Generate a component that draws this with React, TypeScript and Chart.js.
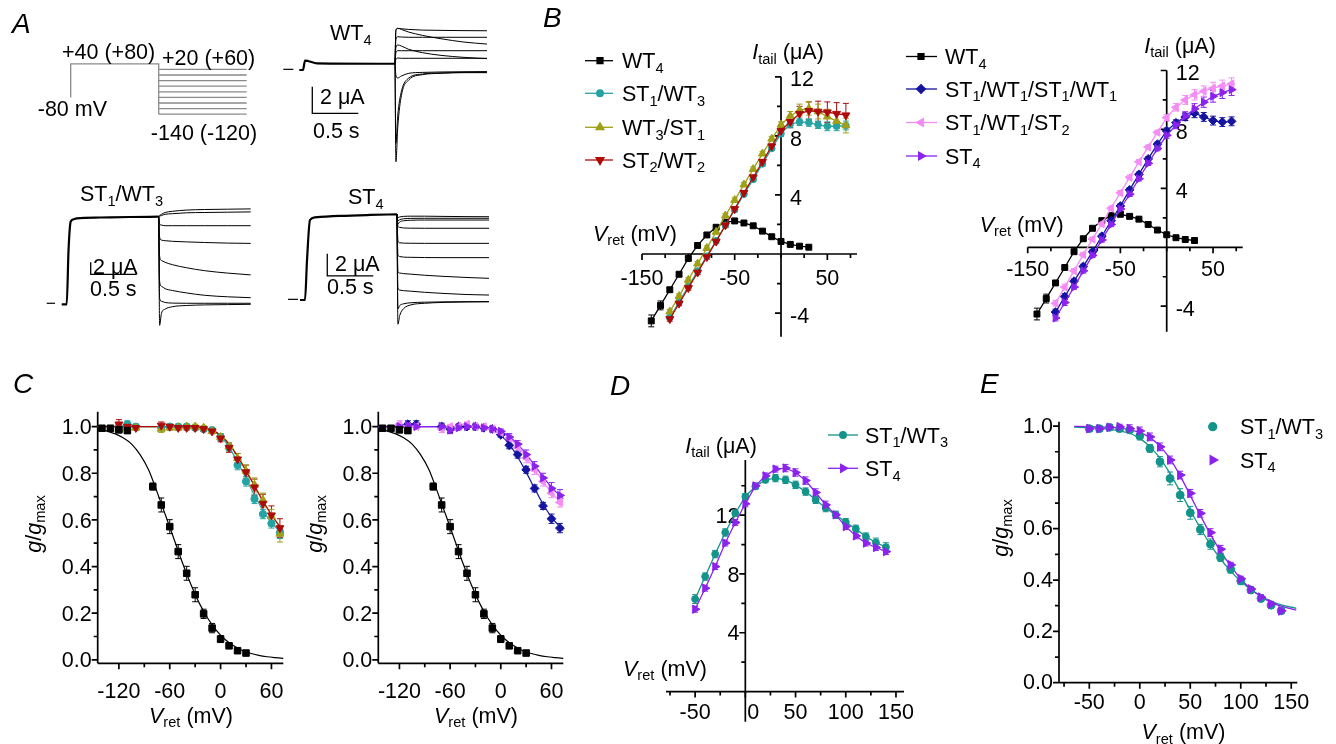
import React, { useEffect, useRef } from 'react';
import { Chart, registerables } from 'chart.js';
import { drawPoint } from 'chart.js/helpers';

Chart.register(...registerables);

const FONT = '"Liberation Sans", Arial, Helvetica, sans-serif';
const FS = 21.5;

/* ================= Panel A : protocol and current traces ================= */
const protoPulseT = [0, 0, 1, 1];
const protoPulseV = [-80, 40, 40, -140];
const protoTailT = [1, 2];
const protoTailV = [20, 0, -20, -40, -60, -80, -100, -120, -140];

const tailT = [1.0, 1.01, 1.03, 1.07, 1.15, 1.3, 1.5, 1.75, 2.0];

const wt4DashT = [-0.214, -0.105];
const wt4DashI = [0.05, 0.05];
const wt4PulseT = [-0.04, 0, 0.022, 0.054, 0.152, 1.0];
const wt4PulseI = [0, 0, 0.71, 0.68, 0.5, 0.47];
const wt4Tails = [
  [0.47, 3.0, 3.13, 3.1, 3.05, 3.0, 2.98, 2.96, 2.95],
  [0.47, 3.0, 3.13, 3.05, 2.85, 2.6, 2.35, 2.1, 1.95],
  [0.47, 2.3, 2.5, 2.48, 2.46, 2.46, 2.46, 2.46, 2.46],
  [0.47, 1.7, 1.88, 1.8, 1.55, 1.3, 1.1, 0.95, 0.85],
  [0.47, 1.3, 1.45, 1.45, 1.45, 1.45, 1.45, 1.45, 1.45],
  [0.47, 0.8, 0.9, 0.88, 0.88, 0.88, 0.88, 0.88, 0.88],
  [0.47, -0.4, -0.6, -0.45, -0.25, -0.18, -0.15, -0.13, -0.12],
  [0.47, -5.5, -3.4, -1.6, -0.6, -0.3, -0.22, -0.18, -0.17],
  [0.47, -6.9, -4.3, -1.9, -0.75, -0.35, -0.25, -0.2, -0.2],
];
const wt4BarT = [0.101, 0.101, 0.601];
const wt4BarI = [-1.26, -3.26, -3.26];

const st1DashT = [-0.217, -0.127];
const st1DashI = [0.17, 0.17];
const st1PulseT = [-0.054, 0, 0.02, 0.043, 0.068, 0.109, 0.362, 0.688, 1.0];
const st1PulseI = [0, 0, 9.05, 13.77, 14.13, 14.33, 14.47, 14.55, 14.6];
const st1Tails = [
  [14.6, 14.8, 15.0, 15.3, 15.5, 15.7, 15.8, 15.85, 15.9],
  [14.6, 14.7, 14.8, 15.0, 15.1, 15.25, 15.3, 15.35, 15.4],
  [14.6, 13.4, 13.2, 13.1, 13.1, 13.1, 13.1, 13.1, 13.1],
  [14.6, 11.2, 10.7, 10.6, 10.5, 10.4, 10.3, 10.2, 10.15],
  [14.6, 8.0, 7.3, 7.0, 6.6, 6.1, 5.6, 5.2, 4.9],
  [14.6, 3.8, 3.0, 2.6, 2.3, 1.9, 1.5, 1.25, 1.1],
  [14.6, 1.0, 0.5, 0.3, 0.2, 0.17, 0.17, 0.17, 0.17],
  [14.6, -3.5, -1.5, -0.8, -0.4, -0.2, -0.1, -0.05, 0.0],
];
const st1BarT = [0.261, 0.261, 0.761];
const st1BarI = [7, 5, 5];

const st4DashT = [-0.185, -0.076];
const st4DashI = [0.06, 0.06];
const st4PulseT = [-0.054, 0, 0.022, 0.054, 0.109, 0.38, 0.707, 1.0];
const st4PulseI = [0, 0, 3.64, 7.27, 7.52, 7.64, 7.73, 7.79];
const st4Tails = [
  [7.79, 7.5, 7.55, 7.6, 7.62, 7.62, 7.6, 7.58, 7.57],
  [7.79, 7.2, 7.3, 7.38, 7.42, 7.43, 7.43, 7.43, 7.43],
  [7.79, 6.9, 7.1, 7.2, 7.25, 7.27, 7.27, 7.27, 7.27],
  [7.79, 6.7, 6.6, 6.55, 6.53, 6.52, 6.52, 6.52, 6.52],
  [7.79, 5.4, 5.2, 5.17, 5.16, 5.15, 5.15, 5.15, 5.15],
  [7.79, 4.1, 3.95, 3.9, 3.88, 3.86, 3.85, 3.85, 3.85],
  [7.79, 2.6, 2.45, 2.4, 2.35, 2.25, 2.15, 2.05, 1.97],
  [7.79, 1.1, 0.9, 0.85, 0.8, 0.7, 0.6, 0.5, 0.45],
  [7.79, -0.8, -0.5, -0.35, -0.25, -0.2, -0.17, -0.15, -0.15],
  [7.79, -2.2, -1.4, -0.8, -0.45, -0.3, -0.22, -0.18, -0.16],
];
const st4BarT = [0.242, 0.242, 0.742];
const st4BarI = [4.2, 2.2, 2.2];

/* ================= Panel B : tail current vs Vret ================= */
const vWT4 = [-140, -130, -120, -110, -100, -90, -80, -70, -60, -50, -40, -30, -20, -10, 0, 10, 20, 30];
const iWT4 = [-4.53, -3.48, -2.42, -1.37, -0.3, 0.58, 1.29, 1.81, 2.15, 2.24, 2.1, 1.91, 1.55, 1.17, 0.85, 0.65, 0.53, 0.46];
const eWT4 = [0.4, 0.3, 0.15, 0.12, 0.1, 0.1, 0.1, 0.1, 0.12, 0.15, 0.12, 0.1, 0.1, 0.08, 0.08, 0.06, 0.06, 0.06];

const vMut = [-120, -110, -100, -90, -80, -70, -60, -50, -40, -30, -20, -10, 0, 10, 20, 30, 40, 50, 60, 70];
const iST1WT3 = [-4.3, -3.25, -2.2, -1.15, -0.15, 0.9, 1.95, 3.0, 4.05, 5.05, 6.1, 7.15, 8.15, 8.8, 8.95, 8.9, 8.75, 8.65, 8.65, 8.7];
const eST1WT3 = [0.15, 0.15, 0.15, 0.15, 0.15, 0.15, 0.15, 0.15, 0.15, 0.15, 0.15, 0.15, 0.2, 0.25, 0.25, 0.25, 0.25, 0.3, 0.3, 0.3];
const iWT3ST1 = [-3.9, -2.85, -1.75, -0.65, 0.4, 1.5, 2.6, 3.65, 4.7, 5.75, 6.8, 7.8, 8.75, 9.35, 9.75, 9.85, 9.65, 9.3, 9.0, 8.7];
const eWT3ST1 = [0.15, 0.15, 0.15, 0.15, 0.15, 0.15, 0.15, 0.15, 0.15, 0.15, 0.15, 0.15, 0.2, 0.3, 0.4, 0.45, 0.5, 0.5, 0.5, 0.5];
const iST2WT2 = [-4.4, -3.35, -2.3, -1.25, -0.2, 0.85, 1.95, 3.05, 4.15, 5.2, 6.25, 7.3, 8.35, 8.95, 9.5, 9.7, 9.65, 9.6, 9.5, 9.4];
const eST2WT2 = [0.15, 0.15, 0.15, 0.15, 0.15, 0.15, 0.15, 0.15, 0.15, 0.15, 0.15, 0.15, 0.2, 0.4, 0.5, 0.6, 0.7, 0.7, 0.75, 0.8];

const iS1W1S1W1 = [-4.4, -3.35, -2.3, -1.3, -0.3, 0.75, 1.8, 2.8, 3.9, 4.95, 6.0, 7.0, 7.9, 8.45, 8.85, 9.1, 8.85, 8.6, 8.5, 8.55];
const eS1W1S1W1 = [0.2, 0.2, 0.15, 0.15, 0.15, 0.15, 0.15, 0.15, 0.15, 0.15, 0.15, 0.15, 0.2, 0.2, 0.25, 0.3, 0.3, 0.3, 0.3, 0.3];
const iS1W1S2 = [-3.8, -2.7, -1.6, -0.5, 0.55, 1.6, 2.65, 3.7, 4.75, 5.8, 6.8, 7.8, 8.8, 9.5, 10.0, 10.35, 10.6, 10.8, 10.95, 11.1];
const eS1W1S2 = [0.2, 0.2, 0.15, 0.15, 0.15, 0.15, 0.15, 0.15, 0.15, 0.15, 0.15, 0.15, 0.2, 0.25, 0.3, 0.35, 0.35, 0.4, 0.4, 0.4];
const iST4 = [-4.8, -3.75, -2.7, -1.6, -0.55, 0.5, 1.55, 2.6, 3.6, 4.65, 5.7, 6.7, 7.6, 8.3, 8.9, 9.4, 9.85, 10.25, 10.5, 10.7];
const eST4 = [0.2, 0.2, 0.15, 0.15, 0.15, 0.15, 0.15, 0.15, 0.15, 0.15, 0.15, 0.15, 0.2, 0.25, 0.3, 0.35, 0.35, 0.4, 0.4, 0.4];

/* ================= Panel C : g/gmax ================= */
const vGWT4 = [-140, -130, -120, -110, -80, -70, -60, -50, -40, -30, -20, -10, 0, 10, 20, 30];
const gWT4 = [0.993, 0.993, 0.986, 0.983, 0.743, 0.664, 0.571, 0.464, 0.371, 0.279, 0.197, 0.136, 0.089, 0.06, 0.039, 0.029];
const egWT4 = [0.01, 0.01, 0.01, 0.012, 0.015, 0.03, 0.03, 0.03, 0.03, 0.03, 0.02, 0.02, 0.015, 0.01, 0.01, 0.01];
const vGMut = [-120, -110, -100, -70, -60, -50, -40, -30, -20, -10, 0, 10, 20, 30, 40, 50, 60, 70];
const gST1WT3 = [1.0, 1.01, 1.0, 0.995, 1.0, 1.0, 1.0, 0.995, 0.99, 0.985, 0.955, 0.91, 0.835, 0.765, 0.69, 0.625, 0.585, 0.545];
const egST1WT3 = [0.01, 0.015, 0.01, 0.01, 0.01, 0.01, 0.01, 0.01, 0.01, 0.01, 0.015, 0.015, 0.02, 0.02, 0.02, 0.02, 0.02, 0.025];
const gWT3ST1 = [0.99, 0.995, 0.995, 0.99, 0.995, 0.995, 1.0, 1.0, 0.995, 0.98, 0.955, 0.915, 0.865, 0.81, 0.75, 0.685, 0.615, 0.54];
const egWT3ST1 = [0.015, 0.01, 0.01, 0.015, 0.01, 0.01, 0.01, 0.01, 0.01, 0.01, 0.015, 0.015, 0.02, 0.025, 0.03, 0.03, 0.03, 0.035];
const gST2WT2 = [1.01, 1.0, 0.995, 1.005, 1.0, 0.995, 0.995, 0.995, 0.99, 0.98, 0.95, 0.91, 0.86, 0.805, 0.74, 0.67, 0.62, 0.565];
const egST2WT2 = [0.02, 0.015, 0.01, 0.015, 0.01, 0.01, 0.01, 0.01, 0.01, 0.01, 0.015, 0.02, 0.025, 0.03, 0.035, 0.04, 0.04, 0.04];
const gS1W1S1W1 = [1.0, 1.01, 1.01, 1.0, 0.99, 1.0, 1.0, 1.0, 0.995, 0.99, 0.965, 0.92, 0.88, 0.815, 0.735, 0.66, 0.605, 0.565];
const egS1W1S1W1 = [0.01, 0.015, 0.015, 0.015, 0.015, 0.01, 0.01, 0.01, 0.01, 0.01, 0.01, 0.015, 0.015, 0.015, 0.015, 0.015, 0.02, 0.02];
const gS1W1S2 = [1.01, 1.0, 1.0, 0.99, 1.0, 1.0, 1.01, 1.0, 1.0, 0.99, 0.975, 0.95, 0.91, 0.865, 0.815, 0.765, 0.715, 0.675];
const egS1W1S2 = [0.015, 0.01, 0.01, 0.015, 0.01, 0.01, 0.01, 0.01, 0.01, 0.01, 0.01, 0.015, 0.015, 0.02, 0.02, 0.02, 0.02, 0.02];
const gST4C = [1.0, 1.005, 1.0, 1.0, 0.985, 0.995, 1.0, 1.0, 0.995, 0.99, 0.98, 0.955, 0.925, 0.88, 0.83, 0.78, 0.735, 0.705];
const egST4C = [0.01, 0.01, 0.01, 0.01, 0.015, 0.01, 0.01, 0.01, 0.01, 0.01, 0.01, 0.015, 0.015, 0.02, 0.02, 0.02, 0.025, 0.025];

const vFitWT4 = [-145, -135, -125, -115, -105, -95, -85, -75, -65, -55, -45, -35, -25, -15, -5, 5, 15, 25, 35, 45, 55, 65, 74];
const fitWT4 = [0.99, 0.982, 0.97, 0.952, 0.925, 0.88, 0.815, 0.72, 0.62, 0.518, 0.416, 0.323, 0.242, 0.177, 0.126, 0.088, 0.061, 0.041, 0.028, 0.019, 0.013, 0.009, 0.006];
const vFitMut = [-145, -120, -100, -80, -60, -40, -20, -10, 0, 10, 20, 30, 40, 50, 60, 74];
const fitST1WT3 = [1, 1, 1, 1, 1, 0.999, 0.993, 0.982, 0.958, 0.912, 0.848, 0.777, 0.706, 0.641, 0.588, 0.535];
const fitWT3ST1 = [1, 1, 1, 1, 1, 0.999, 0.994, 0.985, 0.963, 0.927, 0.875, 0.814, 0.749, 0.683, 0.622, 0.548];
const fitST2WT2 = [1, 1, 1, 1, 1, 0.999, 0.994, 0.985, 0.962, 0.925, 0.872, 0.81, 0.745, 0.68, 0.622, 0.553];
const fitS1W1S1W1 = [1, 1, 1, 1, 1, 0.999, 0.994, 0.985, 0.963, 0.925, 0.87, 0.805, 0.735, 0.668, 0.612, 0.555];
const fitS1W1S2 = [1, 1, 1, 1, 1, 1, 0.997, 0.99, 0.977, 0.952, 0.915, 0.868, 0.817, 0.765, 0.717, 0.665];
const fitST4C = [1, 1, 1, 1, 1, 1, 0.998, 0.992, 0.98, 0.958, 0.925, 0.882, 0.834, 0.785, 0.74, 0.69];

/* ================= Panel D : tail current, extended range ================= */
const vD = [-50, -40, -30, -20, -10, 0, 10, 20, 30, 40, 50, 60, 70, 80, 90, 100, 110, 120, 130, 140];
const dST1WT3 = [6.29, 7.82, 9.35, 10.82, 12.13, 13.27, 13.95, 14.4, 14.52, 14.4, 14.06, 13.6, 13.04, 12.48, 12.02, 11.52, 11.07, 10.54, 10.14, 9.82];
const edST1WT3 = [0.3, 0.25, 0.25, 0.25, 0.2, 0.2, 0.2, 0.2, 0.25, 0.25, 0.25, 0.25, 0.25, 0.25, 0.25, 0.25, 0.25, 0.25, 0.3, 0.3];
const dST4 = [5.6, 7.03, 8.5, 10.1, 11.5, 12.77, 13.99, 14.67, 15.13, 15.2, 14.9, 14.35, 13.54, 12.7, 12.02, 11.22, 10.59, 10.1, 9.8, 9.52];
const edST4 = [0.2, 0.2, 0.2, 0.2, 0.2, 0.2, 0.2, 0.2, 0.2, 0.25, 0.25, 0.25, 0.25, 0.25, 0.2, 0.2, 0.2, 0.2, 0.2, 0.2];

/* ================= Panel E : g/gmax, extended range ================= */
const vE = [-50, -40, -30, -20, -10, 0, 10, 20, 30, 40, 50, 60, 70, 80, 90, 100, 110, 120, 130, 140];
const eGST1WT3 = [0.99, 0.99, 0.995, 0.99, 0.985, 0.961, 0.913, 0.861, 0.796, 0.731, 0.662, 0.597, 0.54, 0.488, 0.442, 0.397, 0.361, 0.328, 0.302, 0.28];
const eeGST1WT3 = [0.01, 0.01, 0.01, 0.01, 0.01, 0.015, 0.015, 0.02, 0.025, 0.025, 0.025, 0.02, 0.02, 0.015, 0.015, 0.015, 0.01, 0.01, 0.01, 0.01];
const eGST4 = [0.99, 0.99, 0.995, 0.997, 0.99, 0.981, 0.958, 0.919, 0.868, 0.809, 0.738, 0.66, 0.585, 0.52, 0.459, 0.405, 0.365, 0.333, 0.307, 0.28];
const eeGST4 = [0.01, 0.01, 0.01, 0.01, 0.015, 0.015, 0.015, 0.015, 0.015, 0.015, 0.015, 0.015, 0.015, 0.015, 0.01, 0.01, 0.01, 0.01, 0.01, 0.01];
const vFitE = [-65, -50, -40, -30, -20, -10, 0, 10, 20, 30, 40, 50, 60, 70, 80, 90, 100, 110, 120, 130, 140, 155];
const fitEST1WT3 = [0.996, 0.994, 0.991, 0.987, 0.981, 0.972, 0.952, 0.92, 0.875, 0.815, 0.745, 0.672, 0.602, 0.538, 0.482, 0.435, 0.395, 0.363, 0.338, 0.318, 0.303, 0.29];
const fitEST4 = [0.999, 0.998, 0.997, 0.995, 0.992, 0.986, 0.975, 0.955, 0.922, 0.872, 0.806, 0.73, 0.652, 0.578, 0.512, 0.455, 0.405, 0.365, 0.335, 0.313, 0.298, 0.283];

/* ================= Tick labels ================= */
const bTicksX = [-150, -125, -100, -75, -50, -25, 0, 25, 50, 75];
const bLabelsX = [-150, -50, 50];
const bTicksY = [-4, -2, 2, 4, 6, 8, 10, 12];
const bLabelsY = [-4, 4, 8, 12];
const cTicksX = [-120, -90, -60, -30, 0, 30, 60];
const cLabelsX = [-120, -60, 0, 60];
const gTicksY = [0, 0.1, 0.2, 0.3, 0.4, 0.5, 0.6, 0.7, 0.8, 0.9, 1.0];
const gLabelsY = [0, 0.2, 0.4, 0.6, 0.8, 1.0];
const dTicksX = [-75, -50, -25, 0, 25, 50, 75, 100, 125, 150];
const dLabelsX = [-50, 0, 50, 100, 150];
const dTicksY = [2, 4, 6, 8, 10, 12, 14];
const dLabelsY = [4, 8, 12];

/* ================= Colours & markers ================= */
const BLACK = '#000000';
const TEAL = '#25a3a3';
const TEAL_D = '#13948a';
const OLIVE = '#a0a016';
const RED = '#ad0a0a';
const BLUE = '#1414a0';
const PINK = '#f58cf5';
const PURPLE = '#8b22ee';
const GRAY = '#8a8a8a';

type Mk = { pointStyle: string; radius: number; rotation: number };
const SQ: Mk = { pointStyle: 'rect', radius: 4.2, rotation: 0 };
const CI: Mk = { pointStyle: 'circle', radius: 3.3, rotation: 0 };
const UP: Mk = { pointStyle: 'triangle', radius: 4.6, rotation: 0 };
const DN: Mk = { pointStyle: 'triangle', radius: 4.6, rotation: 180 };
const DI: Mk = { pointStyle: 'rectRot', radius: 4.4, rotation: 0 };
const LT: Mk = { pointStyle: 'triangle', radius: 4.6, rotation: 270 };
const RT: Mk = { pointStyle: 'triangle', radius: 4.6, rotation: 90 };
const big = (m: Mk, k: number): Mk => ({ ...m, radius: m.radius * k });

/* ================= Helpers ================= */
const pts = (xs: number[], ys: number[]) => xs.map((x, i) => ({ x, y: ys[i] }));

function trace(xs: number[], ys: number[], color = BLACK, w = 1, smooth = true) {
  return {
    data: pts(xs, ys), borderColor: color, backgroundColor: color, borderWidth: w, pointRadius: 0,
    showLine: true, fill: false, tension: 0, cubicInterpolationMode: smooth ? 'monotone' : 'default', clip: false,
  };
}
function series(xs: number[], ys: number[], errs: number[], color: string, m: Mk, line = true) {
  return {
    data: pts(xs, ys), errs, borderColor: color, backgroundColor: color, borderWidth: 1.3,
    pointStyle: m.pointStyle, pointRadius: m.radius, pointRotation: m.rotation,
    pointBackgroundColor: color, pointBorderColor: color, pointBorderWidth: 1,
    showLine: line, fill: false, tension: 0, clip: false,
  };
}

type Seg = { t: string; i?: boolean; s?: boolean };
function parse(src: string): Seg[] {
  const out: Seg[] = [];
  let it = false;
  let buf = '';
  let i = 0;
  const push = (sub = false) => { if (buf) out.push({ t: buf, i: it && !sub, s: sub }); buf = ''; };
  while (i < src.length) {
    const c = src[i];
    if (c === '*') { push(); it = !it; i++; continue; }
    if (c === '_' && src[i + 1] === '{') {
      push();
      const j = src.indexOf('}', i);
      buf = src.slice(i + 2, j);
      push(true);
      i = j + 1;
      continue;
    }
    buf += c; i++;
  }
  push();
  return out;
}

function drawRich(ctx: CanvasRenderingContext2D, src: string, x: number, yc: number, align: string, size = FS) {
  const segs = parse(src);
  const sub = size * 0.68;
  const font = (g: Seg) => `${g.i ? 'italic ' : ''}${g.s ? sub : size}px ${FONT}`;
  const widths = segs.map((g) => { ctx.font = font(g); return ctx.measureText(g.t).width; });
  const total = widths.reduce((a, b) => a + b, 0);
  let cx = align === 'center' ? x - total / 2 : align === 'right' ? x - total : x;
  const base = yc + 0.358 * size;
  ctx.textAlign = 'left';
  ctx.textBaseline = 'alphabetic';
  segs.forEach((g, k) => {
    ctx.font = font(g);
    ctx.fillText(g.t, cx, g.s ? base + 0.22 * size : base);
    cx += widths[k];
  });
}

type AxisDef = {
  kind: 'x' | 'y'; at: number; from: number; to: number;
  ticks: number[]; majors: number[]; labels: number[]; dec: number;
  gap: number; dy?: number; side?: 'left' | 'right'; zeroShift?: number;
};
type LegendDef = {
  x1: number; x2: number; xm: number; tx: number; line: boolean;
  items: { y: number; color: string; m: Mk; text: string }[];
};
type TextDef = { x: number; y: number; s: string; align?: string; size?: number; rot?: boolean };
type Decor = { axes?: AxisDef[]; legend?: LegendDef; texts?: TextDef[] };

function drawAxis(chart: any, ctx: CanvasRenderingContext2D, ax: AxisDef) {
  const xs = chart.scales.x;
  const ys = chart.scales.y;
  ctx.save();
  ctx.strokeStyle = '#000';
  ctx.fillStyle = '#000';
  ctx.lineWidth = 1.7;
  ctx.beginPath();
  if (ax.kind === 'x') {
    const y = ys.getPixelForValue(ax.at);
    ctx.moveTo(xs.getPixelForValue(ax.from), y);
    ctx.lineTo(xs.getPixelForValue(ax.to), y);
    for (const v of ax.ticks) {
      const px = xs.getPixelForValue(v);
      ctx.moveTo(px, y);
      ctx.lineTo(px, y + (ax.majors.includes(v) ? 6 : 4));
    }
    ctx.stroke();
    for (const v of ax.labels) {
      const px = xs.getPixelForValue(v) + (v === 0 && ax.zeroShift ? ax.zeroShift : 0);
      drawRich(ctx, v.toFixed(ax.dec), px, y + ax.gap, 'center');
    }
  } else {
    const x = xs.getPixelForValue(ax.at);
    ctx.moveTo(x, ys.getPixelForValue(ax.from));
    ctx.lineTo(x, ys.getPixelForValue(ax.to));
    for (const v of ax.ticks) {
      const py = ys.getPixelForValue(v);
      ctx.moveTo(x, py);
      ctx.lineTo(x - (ax.majors.includes(v) ? 6 : 4), py);
    }
    ctx.stroke();
    for (const v of ax.labels) {
      const py = ys.getPixelForValue(v) + (ax.dy || 0);
      if (ax.side === 'right') drawRich(ctx, v.toFixed(ax.dec), x + ax.gap, py, 'left');
      else drawRich(ctx, v.toFixed(ax.dec), x - ax.gap, py, 'right');
    }
  }
  ctx.restore();
}

function makeDecor(cfg: Decor, ox: number, oy: number) {
  return {
    id: 'decor',
    beforeDatasetsDraw(chart: any) {
      const ctx: CanvasRenderingContext2D = chart.ctx;
      for (const ax of cfg.axes || []) drawAxis(chart, ctx, ax);
      const ys = chart.scales.y;
      chart.data.datasets.forEach((ds: any, i: number) => {
        if (!ds.errs) return;
        const meta = chart.getDatasetMeta(i);
        ctx.save();
        ctx.strokeStyle = ds.borderColor;
        ctx.lineWidth = 1;
        ctx.beginPath();
        meta.data.forEach((el: any, j: number) => {
          const e = ds.errs[j];
          if (!e) return;
          const v = ds.data[j].y;
          const t = ys.getPixelForValue(v + e);
          const b = ys.getPixelForValue(v - e);
          ctx.moveTo(el.x, t); ctx.lineTo(el.x, b);
          ctx.moveTo(el.x - 3, t); ctx.lineTo(el.x + 3, t);
          ctx.moveTo(el.x - 3, b); ctx.lineTo(el.x + 3, b);
        });
        ctx.stroke();
        ctx.restore();
      });
    },
    afterDraw(chart: any) {
      const ctx: CanvasRenderingContext2D = chart.ctx;
      ctx.save();
      const lg = cfg.legend;
      if (lg) {
        for (const it of lg.items) {
          const y = it.y - oy;
          ctx.strokeStyle = it.color;
          ctx.fillStyle = it.color;
          ctx.lineWidth = 1.3;
          if (lg.line) {
            ctx.beginPath();
            ctx.moveTo(lg.x1 - ox, y);
            ctx.lineTo(lg.x2 - ox, y);
            ctx.stroke();
          }
          drawPoint(ctx, { pointStyle: it.m.pointStyle as any, radius: it.m.radius, rotation: it.m.rotation, borderWidth: 1 } as any, lg.xm - ox, y);
          ctx.fillStyle = '#000';
          drawRich(ctx, it.text, lg.tx - ox, y, 'left');
        }
      }
      ctx.fillStyle = '#000';
      for (const t of cfg.texts || []) {
        if (t.rot) {
          ctx.save();
          ctx.translate(t.x - ox, t.y - oy);
          ctx.rotate(-Math.PI / 2);
          drawRich(ctx, t.s, 0, 0, 'center', t.size || FS);
          ctx.restore();
        } else {
          drawRich(ctx, t.s, t.x - ox, t.y - oy, t.align || 'left', t.size || FS);
        }
      }
      ctx.restore();
    },
  };
}

type Rect = { L: number; T: number; W: number; H: number };
type Area = { x0: number; x1: number; y0: number; y1: number; xmin: number; xmax: number; ymin: number; ymax: number };

// Area for a trace cell: the whole canvas; ranges from the origin pixel and px-per-unit
function cellArea(r: Rect, t0x: number, pxPerX: number, y0px: number, pxPerY: number): Area {
  return {
    x0: r.L, x1: r.L + r.W, y0: r.T, y1: r.T + r.H,
    xmin: (r.L - t0x) / pxPerX, xmax: (r.L + r.W - t0x) / pxPerX,
    ymax: (y0px - r.T) / pxPerY, ymin: (y0px - r.T - r.H) / pxPerY,
  };
}

function Panel({ rect, area, datasets, decor }: { rect: Rect; area: Area; datasets: any[]; decor: Decor }) {
  const ref = useRef<HTMLCanvasElement>(null);
  useEffect(() => {
    const chart = new Chart(ref.current as HTMLCanvasElement, {
      type: 'line',
      data: { datasets },
      options: {
        responsive: false,
        animation: false,
        devicePixelRatio: 1,
        events: [],
        layout: {
          padding: {
            left: area.x0 - rect.L, right: rect.L + rect.W - area.x1,
            top: area.y0 - rect.T, bottom: rect.T + rect.H - area.y1,
          },
        },
        scales: {
          x: { type: 'linear', display: false, min: area.xmin, max: area.xmax },
          y: { type: 'linear', display: false, min: area.ymin, max: area.ymax },
        },
        plugins: { legend: { display: false }, tooltip: { enabled: false }, title: { display: false } },
      } as any,
      plugins: [makeDecor(decor, rect.L, rect.T) as any],
    });
    return () => chart.destroy();
  }, []);
  return (
    <canvas ref={ref} width={rect.W} height={rect.H}
      style={{ position: 'absolute', left: rect.L, top: rect.T, width: rect.W, height: rect.H }} />
  );
}

/* ================= Panel configs ================= */
const rProto: Rect = { L: 0, T: 0, W: 270, H: 165 };
const rWT4: Rect = { L: 270, T: 0, W: 230, H: 175 };
const rST1: Rect = { L: 0, T: 175, W: 265, H: 165 };
const rST4: Rect = { L: 265, T: 175, W: 235, H: 165 };
const rBL: Rect = { L: 535, T: 0, W: 370, H: 350 };
const rBR: Rect = { L: 900, T: 0, W: 436, H: 350 };
const rCL: Rect = { L: 0, T: 365, W: 300, H: 379 };
const rCR: Rect = { L: 300, T: 365, W: 280, H: 379 };
const rD: Rect = { L: 580, T: 365, W: 380, H: 379 };
const rE: Rect = { L: 960, T: 365, W: 376, H: 379 };

const protoDatasets = [
  trace(protoPulseT, protoPulseV, GRAY, 1.3, false),
  ...protoTailV.map((v) => trace(protoTailT, [v, v], GRAY, 1.3, false)),
];
const cellSets = (dashT: number[], dashI: number[], pT: number[], pI: number[], tails: number[][], barT: number[], barI: number[]) => [
  trace(dashT, dashI, BLACK, 1.2, false),
  trace(pT, pI, BLACK, 2.2),
  ...tails.map((tl) => trace(tailT, tl, BLACK, 1)),
  trace(barT, barI, BLACK, 1.3, false),
];

const bAxes = (): AxisDef[] => [
  { kind: 'x', at: 0, from: -150, to: 82, ticks: bTicksX, majors: bLabelsX, labels: bLabelsX, dec: 0, gap: 23 },
  { kind: 'y', at: 0, from: -5.6, to: 12, ticks: bTicksY, majors: bLabelsY, labels: bLabelsY, dec: 0, gap: 9, dy: 2, side: 'right' },
];
const cAxes = (): AxisDef[] => [
  { kind: 'x', at: -0.015, from: -145, to: 74, ticks: cTicksX, majors: cLabelsX, labels: cLabelsX, dec: 0, gap: 27 },
  { kind: 'y', at: -145, from: -0.015, to: 1.064, ticks: gTicksY, majors: gLabelsY, labels: gLabelsY, dec: 1, gap: 6, dy: 0, side: 'left' },
];

export default function App() {
  useEffect(() => {
    document.body.style.margin = '0';
    document.body.style.background = '#ffffff';
  }, []);
  return (
    <div style={{ position: 'absolute', left: 0, top: 0, width: 1336, height: 744, background: '#fff', overflow: 'hidden' }}>
      {/* Panel A */}
      <Panel rect={rProto} area={cellArea(rProto, 70.7, 88, 75, 0.28)} datasets={protoDatasets}
        decor={{ texts: [
          { x: 12, y: 23.3, s: '*A*', size: 28 },
          { x: 108.6, y: 51, s: '+40 (+80)', align: 'center' },
          { x: 208.6, y: 57, s: '+20 (+60)', align: 'center' },
          { x: 72.4, y: 108, s: '-80 mV', align: 'center' },
          { x: 204, y: 132, s: '-140 (-120)', align: 'center' },
        ] }} />
      <Panel rect={rWT4} area={cellArea(rWT4, 303, 92, 70, 13.3)}
        datasets={cellSets(wt4DashT, wt4DashI, wt4PulseT, wt4PulseI, wt4Tails, wt4BarT, wt4BarI)}
        decor={{ texts: [
          { x: 330, y: 32.7, s: 'WT_{4}' },
          { x: 320, y: 96, s: '2 μA' },
          { x: 313, y: 130, s: '0.5 s' },
        ] }} />
      <Panel rect={rST1} area={cellArea(rST1, 66.7, 92, 304.3, 6)}
        datasets={cellSets(st1DashT, st1DashI, st1PulseT, st1PulseI, st1Tails, st1BarT, st1BarI)}
        decor={{ texts: [
          { x: 80, y: 193.3, s: 'ST_{1}/WT_{3}' },
          { x: 93, y: 266, s: '2 μA' },
          { x: 90, y: 288.3, s: '0.5 s' },
        ] }} />
      <Panel rect={rST4} area={cellArea(rST4, 305, 92, 300, 11)}
        datasets={cellSets(st4DashT, st4DashI, st4PulseT, st4PulseI, st4Tails, st4BarT, st4BarI)}
        decor={{ texts: [
          { x: 348, y: 196.7, s: 'ST_{4}' },
          { x: 335, y: 263.3, s: '2 μA' },
          { x: 327, y: 286.7, s: '0.5 s' },
        ] }} />

      {/* Panel B left */}
      <Panel rect={rBL}
        area={{ x0: 642, x1: 857, y0: 76.8, y1: 336.7, xmin: -150, xmax: 82, ymin: -5.6, ymax: 12 }}
        datasets={[
          series(vMut, iST2WT2, eST2WT2, RED, DN),
          series(vMut, iWT3ST1, eWT3ST1, OLIVE, UP),
          series(vMut, iST1WT3, eST1WT3, TEAL, CI),
          series(vWT4, iWT4, eWT4, BLACK, SQ),
        ]}
        decor={{
          axes: bAxes(),
          legend: { x1: 585, x2: 613, xm: 600, tx: 622, line: true, items: [
            { y: 60.7, color: BLACK, m: SQ, text: 'WT_{4}' },
            { y: 93.3, color: TEAL, m: CI, text: 'ST_{1}/WT_{3}' },
            { y: 127.3, color: OLIVE, m: UP, text: 'WT_{3}/ST_{1}' },
            { y: 160, color: RED, m: DN, text: 'ST_{2}/WT_{2}' },
          ] },
          texts: [
            { x: 543, y: 17, s: '*B*', size: 28 },
            { x: 788, y: 51.7, s: '*I*_{tail} (μA)', align: 'center' },
            { x: 635, y: 233, s: '*V*_{ret} (mV)', align: 'center' },
          ],
        }} />

      {/* Panel B right */}
      <Panel rect={rBR}
        area={{ x0: 1027.7, x1: 1242.7, y0: 70.5, y1: 331.7, xmin: -150, xmax: 82, ymin: -5.73, ymax: 12 }}
        datasets={[
          series(vMut, iST4, eST4, PURPLE, RT),
          series(vMut, iS1W1S2, eS1W1S2, PINK, LT),
          series(vMut, iS1W1S1W1, eS1W1S1W1, BLUE, DI),
          series(vWT4, iWT4, eWT4, BLACK, SQ),
        ]}
        decor={{
          axes: [
            { kind: 'x', at: 0, from: -150, to: 82, ticks: bTicksX, majors: bLabelsX, labels: bLabelsX, dec: 0, gap: 21 },
            { kind: 'y', at: 0, from: -5.73, to: 12, ticks: bTicksY, majors: bLabelsY, labels: bLabelsY, dec: 0, gap: 9, dy: 2, side: 'right' },
          ],
          legend: { x1: 906, x2: 937, xm: 921, tx: 945, line: true, items: [
            { y: 56.5, color: BLACK, m: SQ, text: 'WT_{4}' },
            { y: 89, color: BLUE, m: DI, text: 'ST_{1}/WT_{1}/ST_{1}/WT_{1}' },
            { y: 122.5, color: PINK, m: LT, text: 'ST_{1}/WT_{1}/ST_{2}' },
            { y: 156, color: PURPLE, m: RT, text: 'ST_{4}' },
          ] },
          texts: [
            { x: 1180, y: 45, s: '*I*_{tail} (μA)', align: 'center' },
            { x: 1021.7, y: 224, s: '*V*_{ret} (mV)', align: 'center' },
          ],
        }} />

      {/* Panel C left */}
      <Panel rect={rCL}
        area={{ x0: 97.7, x1: 283.3, y0: 411.7, y1: 663.3, xmin: -145, xmax: 74, ymin: -0.015, ymax: 1.064 }}
        datasets={[
          series(vGWT4, gWT4, egWT4, BLACK, big(SQ, 1.1), false),
          series(vGMut, gST2WT2, egST2WT2, RED, DN, false),
          series(vGMut, gWT3ST1, egWT3ST1, OLIVE, UP, false),
          series(vGMut, gST1WT3, egST1WT3, TEAL, big(CI, 1.1), false),
          trace(vFitMut, fitST2WT2, RED, 1.2),
          trace(vFitMut, fitWT3ST1, OLIVE, 1.2),
          trace(vFitMut, fitST1WT3, TEAL, 1.2),
          trace(vFitWT4, fitWT4, BLACK, 1.2),
        ]}
        decor={{
          axes: cAxes(),
          texts: [
            { x: 13, y: 383.3, s: '*C*', size: 28 },
            { x: 191, y: 715, s: '*V*_{ret} (mV)', align: 'center' },
            { x: 33, y: 524, s: '*g*/*g*_{max}', rot: true },
          ],
        }} />

      {/* Panel C right */}
      <Panel rect={rCR}
        area={{ x0: 378.3, x1: 563.3, y0: 411.7, y1: 663.3, xmin: -145, xmax: 74, ymin: -0.015, ymax: 1.064 }}
        datasets={[
          series(vGWT4, gWT4, egWT4, BLACK, big(SQ, 1.1), false),
          series(vGMut, gST4C, egST4C, PURPLE, RT, false),
          series(vGMut, gS1W1S2, egS1W1S2, PINK, LT, false),
          series(vGMut, gS1W1S1W1, egS1W1S1W1, BLUE, DI, false),
          trace(vFitMut, fitST4C, PURPLE, 1.2),
          trace(vFitMut, fitS1W1S2, PINK, 1.2),
          trace(vFitMut, fitS1W1S1W1, BLUE, 1.2),
          trace(vFitWT4, fitWT4, BLACK, 1.2),
        ]}
        decor={{
          axes: cAxes(),
          texts: [
            { x: 476, y: 715, s: '*V*_{ret} (mV)', align: 'center' },
            { x: 314, y: 524, s: '*g*/*g*_{max}', rot: true },
          ],
        }} />

      {/* Panel D */}
      <Panel rect={rD}
        area={{ x0: 666, x1: 904, y0: 460, y1: 721.7, xmin: -79, xmax: 158, ymin: -2.05, ymax: 15.75 }}
        datasets={[
          series(vD, dST4, edST4, PURPLE, big(RT, 1.05)),
          series(vD, dST1WT3, edST1WT3, TEAL_D, big(CI, 1.05)),
        ]}
        decor={{
          axes: [
            { kind: 'x', at: 0, from: -79, to: 158, ticks: dTicksX, majors: dLabelsX, labels: dLabelsX, dec: 0, gap: 20, zeroShift: 8 },
            { kind: 'y', at: 0, from: -2.05, to: 15.75, ticks: dTicksY, majors: dLabelsY, labels: dLabelsY, dec: 0, gap: 6, dy: 0, side: 'left' },
          ],
          legend: { x1: 828, x2: 858, xm: 843, tx: 865, line: true, items: [
            { y: 435, color: TEAL_D, m: CI, text: 'ST_{1}/WT_{3}' },
            { y: 468.3, color: PURPLE, m: RT, text: 'ST_{4}' },
          ] },
          texts: [
            { x: 610, y: 385, s: '*D*', size: 28 },
            { x: 721, y: 445, s: '*I*_{tail} (μA)', align: 'center' },
            { x: 665, y: 668, s: '*V*_{ret} (mV)', align: 'center' },
          ],
        }} />

      {/* Panel E */}
      <Panel rect={rE}
        area={{ x0: 1059, x1: 1297.3, y0: 421.7, y1: 682.7, xmin: -80, xmax: 156, ymin: 0, ymax: 1.017 }}
        datasets={[
          series(vE, eGST4, eeGST4, PURPLE, big(RT, 1.1), false),
          series(vE, eGST1WT3, eeGST1WT3, TEAL_D, big(CI, 1.2), false),
          trace(vFitE, fitEST4, PURPLE, 1.3),
          trace(vFitE, fitEST1WT3, TEAL_D, 1.3),
        ]}
        decor={{
          axes: [
            { kind: 'x', at: 0, from: -80, to: 156, ticks: dTicksX, majors: dLabelsX, labels: dLabelsX, dec: 0, gap: 19 },
            { kind: 'y', at: -80, from: 0, to: 1.017, ticks: gTicksY, majors: gLabelsY, labels: gLabelsY, dec: 1, gap: 6, dy: -1, side: 'left' },
          ],
          legend: { x1: 1212.7, x2: 1212.7, xm: 1212.7, tx: 1240, line: false, items: [
            { y: 426.7, color: TEAL_D, m: big(CI, 1.2), text: 'ST_{1}/WT_{3}' },
            { y: 460, color: PURPLE, m: big(RT, 1.1), text: 'ST_{4}' },
          ] },
          texts: [
            { x: 980, y: 383, s: '*E*', size: 28 },
            { x: 1183.5, y: 731.7, s: '*V*_{ret} (mV)', align: 'center' },
            { x: 1000, y: 528, s: '*g*/*g*_{max}', rot: true },
          ],
        }} />
    </div>
  );
}
